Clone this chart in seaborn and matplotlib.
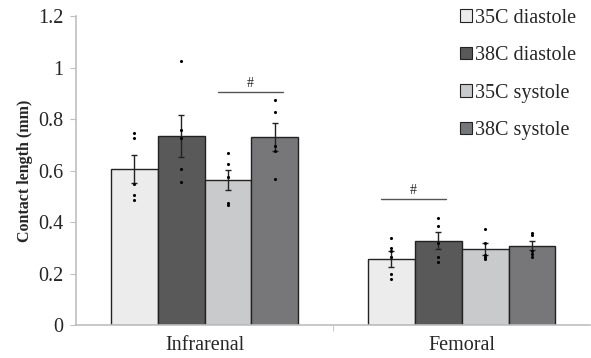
import numpy as np
import pandas as pd
import matplotlib
matplotlib.use('Agg')
import matplotlib.pyplot as plt
import seaborn as sns
from matplotlib.patches import Patch

regions = ['Infrarenal', 'Femoral']
groups = ['35C diastole', '38C diastole', '35C systole', '38C systole']

# mean contact length per region, in group order
infrarenal_mean = [0.605, 0.734, 0.564, 0.730]
femoral_mean = [0.256, 0.328, 0.296, 0.308]
# standard error
infrarenal_err = [0.055, 0.082, 0.040, 0.053]
femoral_err = [0.031, 0.033, 0.024, 0.018]
# individual samples
infrarenal_pts = [[0.747, 0.725, 0.546, 0.506, 0.485],
                  [1.025, 0.756, 0.725, 0.606, 0.555],
                  [0.667, 0.625, 0.576, 0.475, 0.466],
                  [0.876, 0.826, 0.695, 0.676, 0.567]]
femoral_pts = [[0.337, 0.298, 0.286, 0.265, 0.197, 0.177],
               [0.417, 0.386, 0.317, 0.266, 0.246],
               [0.375, 0.318, 0.272, 0.263, 0.255],
               [0.358, 0.349, 0.288, 0.276, 0.265]]

colors = ['#ececec', '#595959', '#c9cacc', '#76777b']

df = pd.DataFrame({
    'region': [r for r in regions for g in groups],
    'group': groups * 2,
    'mean': infrarenal_mean + femoral_mean,
    'err': infrarenal_err + femoral_err,
})

sns.set_style('white')
plt.rcParams['font.family'] = ['Liberation Serif', 'DejaVu Serif']

fig = plt.figure(figsize=(5.91, 3.58), dpi=100)
ax = fig.add_axes([0.1286, 0.092, 0.87, 0.863])

sns.barplot(data=df, x='region', y='mean', hue='group', order=regions,
            hue_order=groups, palette=colors, width=0.73, errorbar=None,
            edgecolor='#222222', linewidth=1.0, ax=ax, legend=False)

# bar centres, in order of hue then region
centres = {}
for i, g in enumerate(groups):
    for j, r in enumerate(regions):
        p = ax.patches[i * len(regions) + j]
        centres[(r, g)] = p.get_x() + p.get_width() / 2

all_pts = {'Infrarenal': infrarenal_pts, 'Femoral': femoral_pts}
for _, row in df.iterrows():
    x = centres[(row['region'], row['group'])]
    ax.errorbar(x, row['mean'], yerr=row['err'], fmt='none', ecolor='#222222',
                elinewidth=1.0, capsize=2.5, capthick=1.0, zorder=4)
    pts = all_pts[row['region']][groups.index(row['group'])]
    ax.scatter([x] * len(pts), pts, s=5, color='black', zorder=5, linewidths=0)

# significance markers
def sig(x0, x1, y):
    ax.plot([x0, x1], [y, y], color='#555555', lw=1.0)
    ax.text((x0 + x1) / 2, y + 0.008, '#', ha='center', va='bottom', fontsize=10)

sig(centres[('Infrarenal', '35C systole')] - 0.04, centres[('Infrarenal', '38C systole')] + 0.03, 0.905)
sig(centres[('Femoral', '35C diastole')] - 0.04, centres[('Femoral', '38C diastole')] + 0.03, 0.489)

ax.set_ylim(0, 1.2)
ax.set_xlim(-0.5, 1.5)
ax.set_yticks([0, 0.2, 0.4, 0.6, 0.8, 1.0, 1.2])
ax.set_yticklabels(['0', '0.2', '0.4', '0.6', '0.8', '1', '1.2'])
ax.set_xlabel('')
ax.set_ylabel('Contact length (mm)', fontsize=11.5, fontweight='bold', labelpad=4)
ax.tick_params(axis='y', direction='out', length=4, color='#bfbfbf', labelsize=14.5, left=True, pad=5)
ax.tick_params(axis='x', length=0, labelsize=14.5, pad=8)
ax.set_xticks([0.5], minor=True)
ax.tick_params(axis='x', which='minor', direction='out', length=4, color='#bfbfbf', bottom=True)
for side in ['top', 'right']:
    ax.spines[side].set_visible(False)
for side in ['left', 'bottom']:
    ax.spines[side].set_color('#bfbfbf')
    ax.spines[side].set_linewidth(1.2)

handles = [Patch(facecolor=c, edgecolor='#222222', linewidth=0.8) for c in colors]
ax.legend(handles, groups, loc='upper right', bbox_to_anchor=(1.0, 1.07), frameon=False,
          fontsize=14.5, handlelength=0.6, handleheight=0.6, handletextpad=0.15,
          labelspacing=0.92, borderaxespad=0.3)

fig.savefig('out.png', dpi=100)
